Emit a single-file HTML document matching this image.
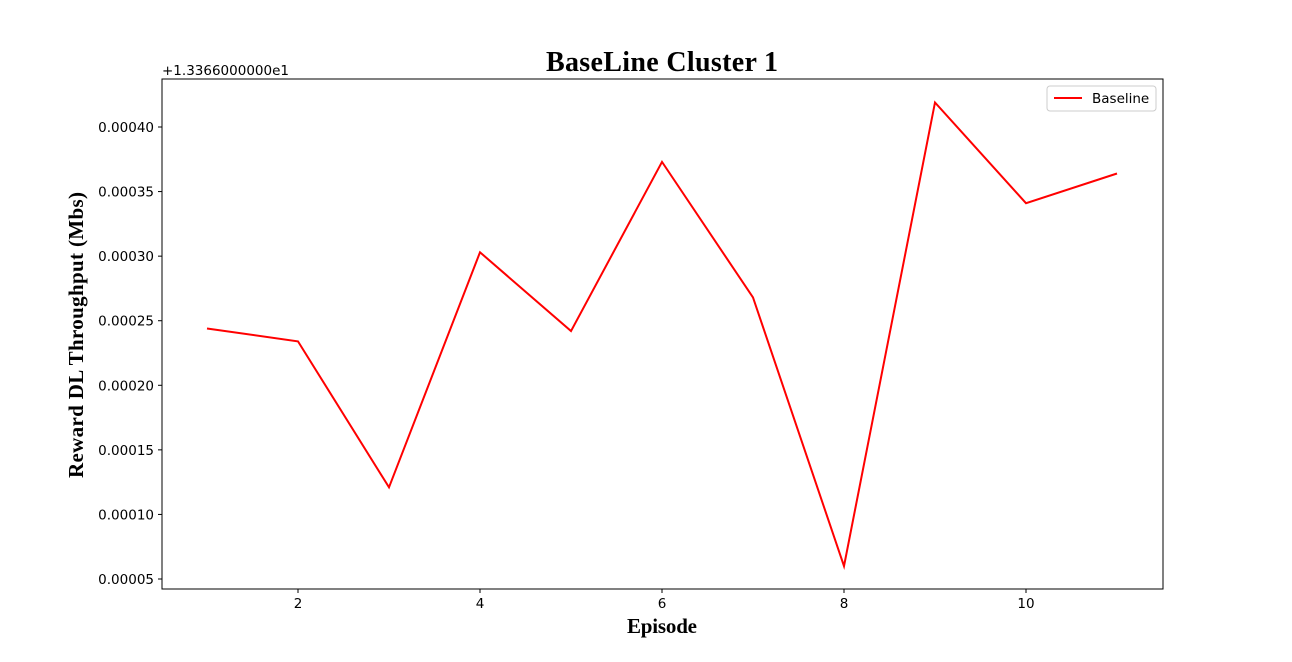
<!DOCTYPE html>
<html><head><meta charset="utf-8"><style>
body{margin:0;background:#fff;}
svg{display:block;font-family:"DejaVu Sans","Liberation Sans",sans-serif;}
</style></head><body>
<svg id="chart" width="1292" height="662">
<text x="662" y="71" text-anchor="middle" font-family="Liberation Serif, serif" font-weight="bold" font-size="28" textLength="232">BaseLine Cluster 1</text>
<text x="162" y="75" font-size="13.5">+1.3366000000e1</text>
<g id="axes"></g>
<text x="662" y="633" text-anchor="middle" font-family="Liberation Serif, serif" font-weight="bold" font-size="21" textLength="70">Episode</text>
<text transform="translate(83,335) rotate(-90)" text-anchor="middle" font-family="Liberation Serif, serif" font-weight="bold" font-size="21" textLength="286">Reward DL Throughput (Mbs)</text>
<g>
<rect x="1047" y="86" width="109" height="25" fill="#fff" stroke="#ccc" rx="3"/>
<line x1="1054" y1="98" x2="1082" y2="98" stroke="red" stroke-width="2"/>
<text x="1092" y="103" font-size="13.5">Baseline</text>
</g>
</svg>
<script>
const episodes=[1,2,3,4,5,6,7,8,9,10,11];
const baseline=[0.000244,0.000234,0.000121,0.000303,0.000242,0.000373,0.000268,0.000060,0.000419,0.000341,0.000364];
const xTicks=[2,4,6,8,10];
const yTicks=[0.00005,0.00010,0.00015,0.00020,0.00025,0.00030,0.00035,0.00040];
const yTickLabels=["0.00005","0.00010","0.00015","0.00020","0.00025","0.00030","0.00035","0.00040"];
const L=162,R=1163,T=79,B=589;
const xs=v=>207+(v-1)*91;
const ys=v=>579-(v-0.00005)/0.00005*64.57;
const NS="http://www.w3.org/2000/svg";
const g=document.getElementById('axes');
function mk(t,a){const e=document.createElementNS(NS,t);for(const k in a)e.setAttribute(k,a[k]);return e;}
const frame=mk('rect',{x:L,y:T,width:R-L,height:B-T,fill:'none',stroke:'#000','stroke-width':1});


g.appendChild(frame);
xTicks.forEach(v=>{
 const x=xs(v);
 const l=mk('line',{x1:x,y1:B,x2:x,y2:B+4,stroke:'#000'});
 
 
 g.appendChild(l);
 const t=mk('text',{x:x,y:B+19,'text-anchor':'middle','font-size':13.5});
 
 
 t.textContent=v;g.appendChild(t);
});
yTicks.forEach((v,i)=>{
 const y=ys(v);
 const l=mk('line',{x1:L-4,y1:y,x2:L,y2:y,stroke:'#000'});
 
 
 g.appendChild(l);
 const t=mk('text',{x:L-8,y:y+5,'text-anchor':'end','font-size':13.5});
 
 
 t.textContent=yTickLabels[i];g.appendChild(t);
});
const p=mk('polyline',{points:episodes.map((e,i)=>xs(e)+','+ys(baseline[i])).join(' '),fill:'none',stroke:'red','stroke-width':2});


g.appendChild(p);
</script>
</body></html>
